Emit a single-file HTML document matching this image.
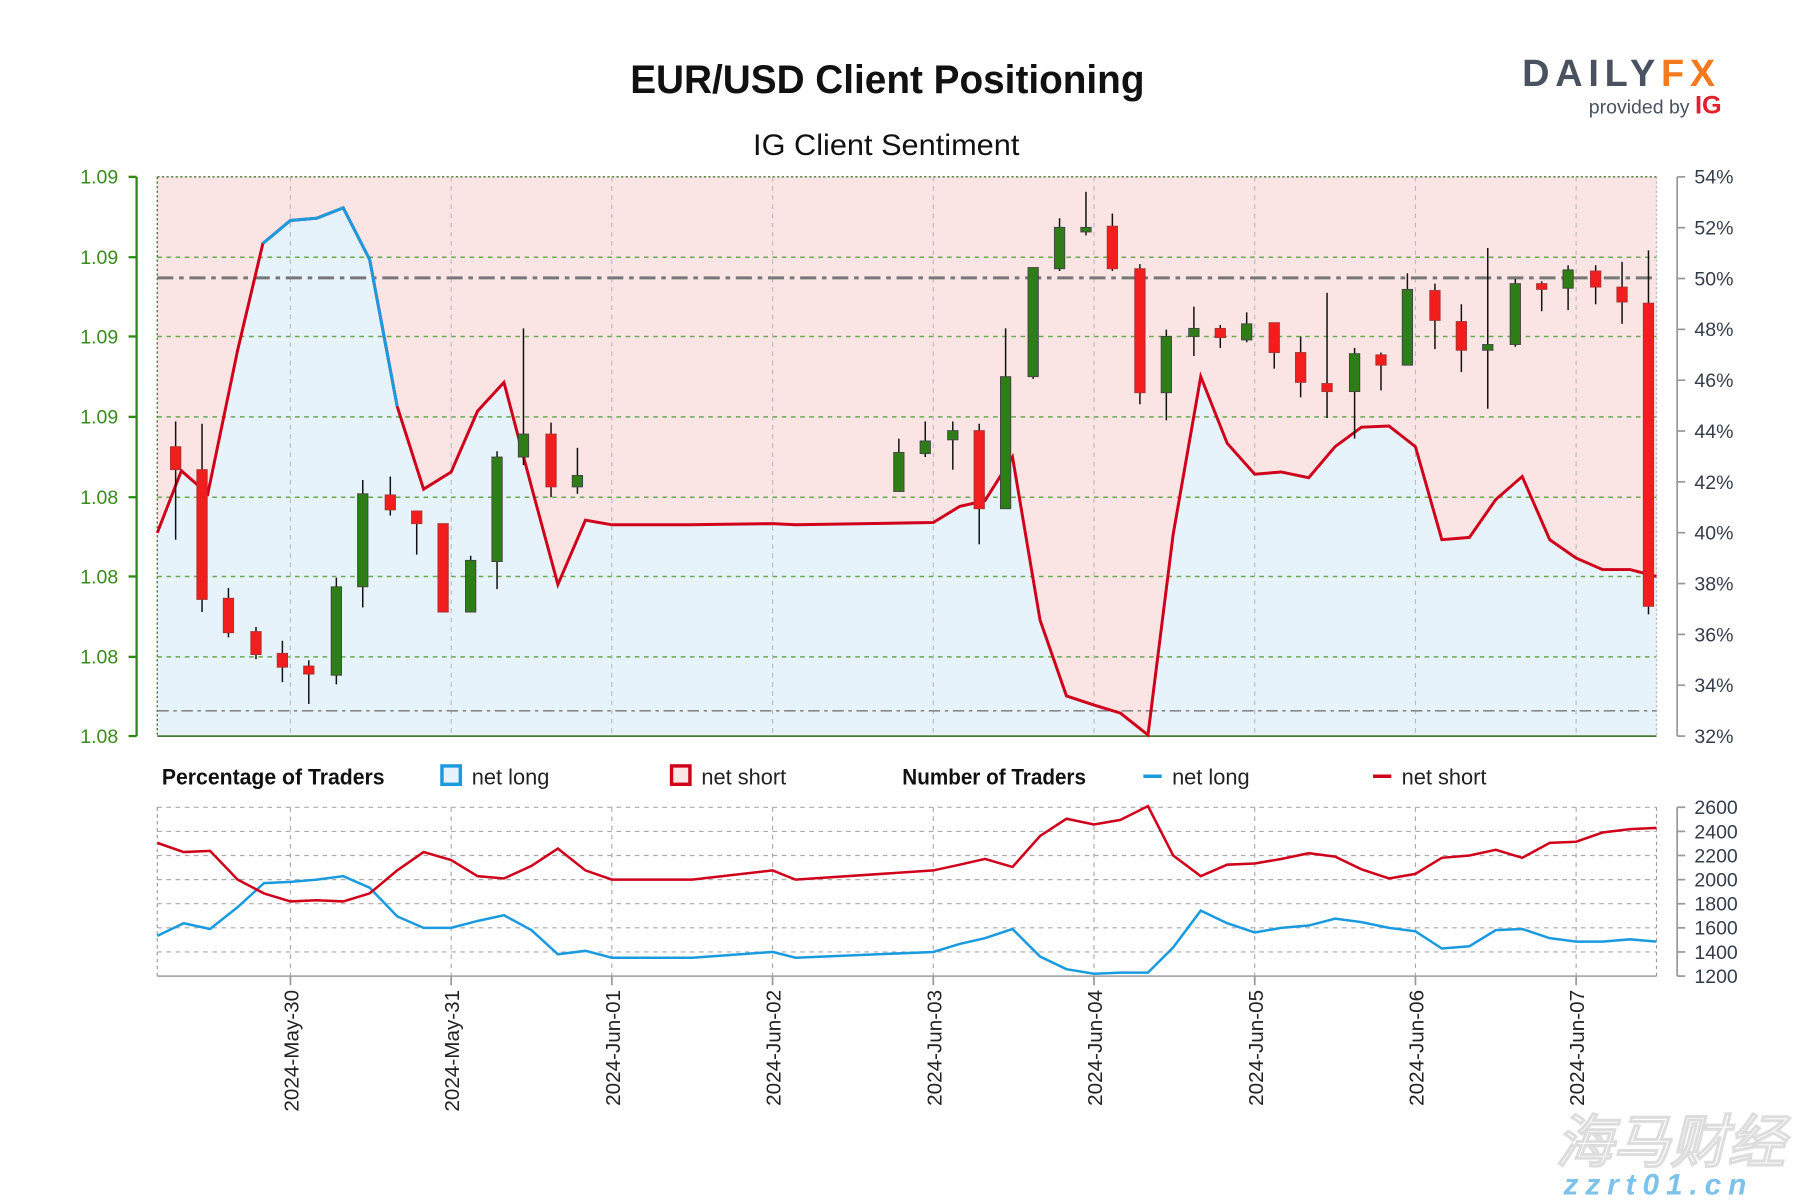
<!DOCTYPE html>
<html><head><meta charset="utf-8"><style>
html,body{margin:0;padding:0;background:#fff}
svg{display:block}
text{font-family:"Liberation Sans",sans-serif}
</style></head><body>
<svg id="s" width="1800" height="1200" viewBox="0 0 1568 1045" preserveAspectRatio="none" xmlns="http://www.w3.org/2000/svg">
<rect width="1568" height="1045" fill="#fff"/>
<text x="773" y="81" text-anchor="middle" font-size="35" font-weight="bold" fill="#111" textLength="448" lengthAdjust="spacingAndGlyphs">EUR/USD Client Positioning</text>
<text x="772" y="135" text-anchor="middle" font-size="26" fill="#111" textLength="232" lengthAdjust="spacingAndGlyphs">IG Client Sentiment</text>
<text x="1326" y="75" font-size="33" font-weight="bold" fill="#4a5260" letter-spacing="5">DAILY<tspan fill="#f47a20">FX</tspan></text>
<text x="1384" y="99" font-size="17" fill="#4a5260">provided by <tspan fill="#e3202a" font-weight="bold" font-size="22">IG</tspan></text>
<g id="main"></g>
<g id="bot"></g>
<text x="141" y="683" font-size="19" font-weight="bold" fill="#111" textLength="194" lengthAdjust="spacingAndGlyphs">Percentage of Traders</text>
<rect x="385" y="667" width="16" height="16" fill="#e6f3fb" stroke="#1a9be0" stroke-width="3"/>
<text x="411" y="683" font-size="19" fill="#222">net long</text>
<rect x="585" y="667" width="16" height="16" fill="#fbe5e5" stroke="#d0021b" stroke-width="3"/>
<text x="611" y="683" font-size="19" fill="#222">net short</text>
<text x="786" y="683" font-size="19" font-weight="bold" fill="#111" textLength="160" lengthAdjust="spacingAndGlyphs">Number of Traders</text>
<line x1="996" y1="676" x2="1012" y2="676" stroke="#1a9be0" stroke-width="3"/>
<text x="1021" y="683" font-size="19" fill="#222">net long</text>
<line x1="1196" y1="676" x2="1212" y2="676" stroke="#d0021b" stroke-width="3"/>
<text x="1221" y="683" font-size="19" fill="#222">net short</text>
<text x="1355" y="1012" font-size="50" font-style="italic" font-weight="bold" fill="#fff" stroke="#ddd" stroke-width="1" font-family="Noto Sans CJK SC,sans-serif">海马财经</text>
<text x="1362" y="1040" font-size="26" font-style="italic" font-weight="bold" fill="#7dc2ea" letter-spacing="6">zzrt01.cn</text>
</svg>
<script>
const NS="http://www.w3.org/2000/svg";
function el(p,t,a,txt){const e=document.createElementNS(NS,t);for(const k in a)e.setAttribute(k,a[k]);if(txt!==undefined)e.textContent=txt;p.appendChild(e);return e;}
const m=document.getElementById('main'),b=document.getElementById('bot');
const L=137,R=1443,T=154,B=641;
el(m,'rect',{x:L,y:T,width:R-L,height:B-T,fill:'#fae4e4'});
const line=[[137,464],[158,410],[181,430],[207,305],[229,212],[253,192],[276,190],[299,181],[322,226],[346,354],[369,426],[393,411],[416,358],[439,333],[463,424],[486,509],[510,453],[533,457],[600,457],[673,456],[693,457],[813,455],[836,441],[858,436],[882,398],[906,540],[929,606],[953,614],[976,621],[1000,640],[1022,465],[1046,328],[1069,386],[1093,413],[1116,411],[1140,416],[1163,389],[1186,372],[1210,371],[1233,389],[1256,470],[1280,468],[1303,435],[1326,415],[1350,470],[1373,486],[1396,496],[1420,496],[1443,502]];
const pts=a=>a.map(p=>p.join(',')).join(' ');
el(m,'polygon',{points:pts([[137,641],...line,[1443,641]]),fill:'#e6f3fb'});
// grid
[224,293,363,433,502,572].forEach(y=>el(m,'line',{x1:L,x2:R,y1:y,y2:y,stroke:'#6aa84f','stroke-dasharray':'4,4','stroke-width':1.3}));
el(m,'line',{x1:L,x2:R,y1:T,y2:T,stroke:'#4d7a3a','stroke-dasharray':'2,2','stroke-width':1.2});
el(m,'line',{x1:L,x2:L,y1:T,y2:B,stroke:'#4d7a3a','stroke-dasharray':'2,2','stroke-width':1.2});
el(m,'line',{x1:R,x2:R,y1:T,y2:B,stroke:'#bbb','stroke-dasharray':'2,2','stroke-width':1.2});
el(m,'line',{x1:L,x2:R,y1:B,y2:B,stroke:'#4d7a3a','stroke-width':1.5});
const dx=[253,393,533,673,813,953,1093,1233,1373];
dx.forEach(x=>{el(m,'line',{x1:x,x2:x,y1:T,y2:B,stroke:'#bbb','stroke-dasharray':'4,4'});});
el(m,'line',{x1:L,x2:R,y1:242,y2:242,stroke:'#777','stroke-dasharray':'14,5,4,5','stroke-width':2.6});
el(m,'line',{x1:L,x2:R,y1:619,y2:619,stroke:'#888','stroke-dasharray':'10,4,3,4','stroke-width':1.5});
// sentiment line
el(m,'polyline',{points:pts(line),fill:'none',stroke:'#d0021b','stroke-width':2.6});
el(m,'polyline',{points:pts(line.slice(4,10)),fill:'none',stroke:'#1a9be0','stroke-width':2.6});
// candles
const c=[[153,'r',389,409,367,470],[176,'r',409,522,369,533],[199,'r',521,551,512,555],[223,'r',550,570,546,574],[246,'r',569,581,558,594],[269,'r',580,587,575,613],[293,'g',511,588,503,596],[316,'g',430,511,418,529],[340,'r',431,444,415,449],[363,'r',445,456,445,483],[386,'r',456,533,456,533],[410,'g',488,533,484,533],[433,'g',398,489,393,513],[456,'g',378,398,286,405],[480,'r',378,424,368,433],[503,'g',414,424,390,430],[783,'g',394,428,382,428],[806,'g',384,395,367,398],[830,'g',375,383,367,409],[853,'r',375,443,369,474],[876,'g',328,443,286,443],[900,'g',233,328,233,330],[923,'g',198,234,190,236],[946,'g',198,202,167,205],[969,'r',197,234,186,236],[993,'r',234,342,230,352],[1016,'g',293,342,287,366],[1040,'g',286,293,267,310],[1063,'r',286,294,283,303],[1086,'g',282,296,272,298],[1110,'r',281,307,281,321],[1133,'r',307,333,293,346],[1156,'r',334,341,255,364],[1180,'g',308,341,303,382],[1203,'r',309,318,307,340],[1226,'g',252,318,238,318],[1250,'r',253,279,247,304],[1273,'r',280,305,265,324],[1296,'g',300,305,216,356],[1320,'g',247,300,243,302],[1343,'r',247,252,245,271],[1366,'g',235,251,231,270],[1390,'r',236,250,231,265],[1413,'r',250,263,228,282],[1436,'r',264,528,218,535]];
c.forEach(([x,col,t,bb,wt,wb])=>{
 el(m,'line',{x1:x,x2:x,y1:wt,y2:wb,stroke:'#111','stroke-width':1.3});
 el(m,'rect',{x:x-4.5,y:t,width:9,height:Math.max(bb-t,2),fill:col=='r'?'#f21d1d':'#2e7d16',stroke:col=='r'?'#a33':'#444','stroke-width':0.8});
});
// axes
el(m,'line',{x1:119,x2:119,y1:T,y2:B,stroke:'#2e8b10','stroke-width':2});
[154,224,293,363,433,502,572,641].forEach((y,i)=>{
 el(m,'line',{x1:112,x2:119,y1:y,y2:y,stroke:'#2e8b10','stroke-width':2});
 el(m,'text',{x:103,y:y+6,'text-anchor':'end','font-size':17,fill:'#3a8a1a'},['1.09','1.09','1.09','1.09','1.08','1.08','1.08','1.08'][i]);
});
el(m,'line',{x1:1461,x2:1461,y1:T,y2:B,stroke:'#999','stroke-width':1.5});
for(let i=0;i<12;i++){const y=154+i*(487/11);
 el(m,'line',{x1:1461,x2:1468,y1:y,y2:y,stroke:'#999','stroke-width':1.5});
 el(m,'text',{x:1476,y:y+6,'font-size':17,fill:'#333d4a'},(54-2*i)+'%');}
// bottom
const BT=703,BB=850;
for(let i=0;i<7;i++){const y=BT+i*21;el(b,'line',{x1:L,x2:R,y1:y,y2:y,stroke:'#aaa','stroke-dasharray':'4,4'});}
el(b,'line',{x1:L,x2:L,y1:BT,y2:BB,stroke:'#999','stroke-dasharray':'3,3'});
el(b,'line',{x1:R,x2:R,y1:BT,y2:BB,stroke:'#999','stroke-dasharray':'3,3'});
el(b,'line',{x1:L,x2:R,y1:BB,y2:BB,stroke:'#aaa','stroke-width':1.5});
dx.forEach((x,i)=>{el(b,'line',{x1:x,x2:x,y1:BT,y2:BB,stroke:'#aaa','stroke-dasharray':'4,4'});
 el(b,'line',{x1:x,x2:x,y1:BB,y2:BB+8,stroke:'#999','stroke-width':1.5});
 const lab=['2024-May-30','2024-May-31','2024-Jun-01','2024-Jun-02','2024-Jun-03','2024-Jun-04','2024-Jun-05','2024-Jun-06','2024-Jun-07'][i];
 el(b,'text',{x:0,y:0,transform:`translate(${x+7},862) rotate(-90)`,'text-anchor':'end','font-size':18,fill:'#222'},lab);});
el(b,'line',{x1:1461,x2:1461,y1:BT,y2:BB,stroke:'#999','stroke-width':1.5});
for(let i=0;i<8;i++){const y=BT+i*21;el(b,'line',{x1:1461,x2:1468,y1:y,y2:y,stroke:'#999','stroke-width':1.5});
 el(b,'text',{x:1476,y:y+6,'font-size':17,fill:'#333d4a'},String(2600-200*i));}
const rl=[[137,734],[160,742],[183,741],[207,766],[230,778],[253,785],[276,784],[299,785],[322,778],[346,758],[369,742],[393,749],[416,763],[439,765],[463,754],[486,739],[510,758],[533,766],[603,766],[673,758],[693,766],[813,758],[836,753],[858,748],[882,755],[906,728],[929,713],[953,718],[976,714],[1000,702],[1022,745],[1046,763],[1069,753],[1093,752],[1116,748],[1140,743],[1163,746],[1186,757],[1210,765],[1233,761],[1256,747],[1280,745],[1303,740],[1326,747],[1350,734],[1373,733],[1396,725],[1420,722],[1443,721]];
const bl=[[137,815],[160,804],[183,809],[207,790],[230,769],[253,768],[276,766],[299,763],[322,773],[346,798],[369,808],[393,808],[416,802],[439,797],[463,810],[486,831],[510,828],[533,834],[603,834],[673,829],[693,834],[813,829],[836,822],[858,817],[882,809],[906,833],[929,844],[953,848],[976,847],[1000,847],[1022,825],[1046,793],[1069,804],[1093,812],[1116,808],[1140,806],[1163,800],[1186,803],[1210,808],[1233,811],[1256,826],[1280,824],[1303,810],[1326,809],[1350,817],[1373,820],[1396,820],[1420,818],[1443,820]];
el(b,'polyline',{points:pts(bl),fill:'none',stroke:'#1a9be0','stroke-width':2.2});
el(b,'polyline',{points:pts(rl),fill:'none',stroke:'#d0021b','stroke-width':2.2});
</script>
</body></html>
